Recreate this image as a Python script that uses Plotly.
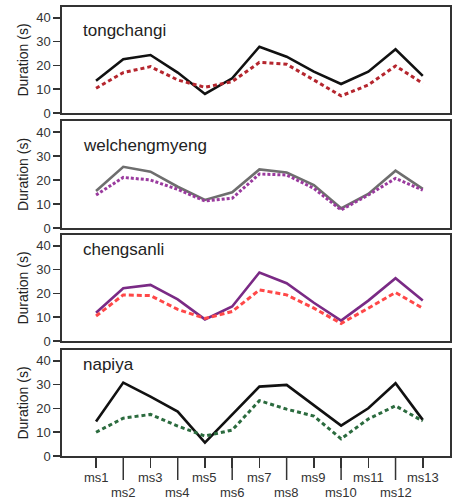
import plotly.graph_objects as go

categories = ["ms1", "ms2", "ms3", "ms4", "ms5", "ms6", "ms7", "ms8", "ms9", "ms10", "ms11", "ms12", "ms13"]
y_ticks = [0, 10, 20, 30, 40]

speakers = ["tongchangi", "welchengmyeng", "chengsanli", "napiya"]

tongchangi_solid = [13.6, 22.6, 24.4, 17.0, 8.0, 14.6, 27.9, 23.7, 17.4, 12.2, 17.4, 26.8, 15.6]
tongchangi_dotted = [10.4, 17.0, 19.5, 13.9, 10.8, 13.2, 21.3, 20.5, 13.9, 7.2, 11.8, 19.8, 12.5]

welchengmyeng_solid = [15.4, 25.5, 23.5, 17.2, 11.7, 14.9, 24.4, 23.1, 17.9, 8.2, 14.2, 23.9, 16.3]
welchengmyeng_dotted = [13.75, 21.1, 20.0, 16.1, 11.25, 12.4, 22.5, 22.1, 16.5, 7.5, 13.75, 20.7, 15.8]

chengsanli_solid = [11.9, 22.2, 23.6, 17.5, 9.1, 14.5, 28.8, 24.3, 16.1, 8.6, 17.0, 26.4, 17.0]
chengsanli_dotted = [10.5, 19.4, 19.1, 13.3, 9.5, 12.4, 21.5, 19.4, 13.8, 7.4, 13.8, 20.4, 13.8]

napiya_solid = [14.5, 30.9, 25.0, 18.7, 5.6, 17.3, 29.2, 29.9, 21.5, 12.8, 20.1, 30.6, 15.2]
napiya_dotted = [10.0, 15.9, 17.5, 12.6, 8.4, 10.9, 23.3, 19.7, 16.8, 7.2, 15.6, 21.1, 14.7]

solid_series = [tongchangi_solid, welchengmyeng_solid, chengsanli_solid, napiya_solid]
dotted_series = [tongchangi_dotted, welchengmyeng_dotted, chengsanli_dotted, napiya_dotted]

solid_colors = ["#111111", "#6e6e6e", "#7a2a85", "#111111"]
dotted_colors = ["#b5262e", "#9a3a9e", "#ff4848", "#2b6b3e"]
dotted_dash = ["4px,3px", "3px,2px", "5px,3px", "4px,3px"]

W, H = 452, 500
ml, mr, mt, mb = 62, 2, 7, 44
plot_h = H - mt - mb
panel_px = [(7, 113), (121, 228), (235, 341), (350, 456)]

x_idx = list(range(len(categories)))
FONT = "Liberation Sans, Arial, sans-serif"
AX = "#333333"

fig = go.Figure()
shapes = []
annotations = []

for i in range(4):
    n = i + 1
    xa = "x" if n == 1 else f"x{n}"
    ya = "y" if n == 1 else f"y{n}"
    fig.add_trace(go.Scatter(x=x_idx, y=solid_series[i], mode="lines",
                             line=dict(color=solid_colors[i], width=2.6),
                             xaxis=xa, yaxis=ya, showlegend=False, hoverinfo="skip"))
    fig.add_trace(go.Scatter(x=x_idx, y=dotted_series[i], mode="lines",
                             line=dict(color=dotted_colors[i], width=3, dash=dotted_dash[i]),
                             xaxis=xa, yaxis=ya, showlegend=False, hoverinfo="skip"))
    top, bot = panel_px[i]
    dom = [(H - mb - bot) / plot_h, (H - mb - top) / plot_h]
    yname = "yaxis" if n == 1 else f"yaxis{n}"
    xname = "xaxis" if n == 1 else f"xaxis{n}"
    fig.layout[yname] = dict(domain=dom, range=[0, 44.6], tickvals=y_ticks,
                             ticks="outside", ticklen=7, tickwidth=1.5, tickcolor=AX,
                             showline=True, linecolor=AX, linewidth=1.6, mirror=True,
                             showgrid=False, zeroline=False, anchor=xa, automargin=False,
                             tickfont=dict(size=13, color="#333", family=FONT),
                             title=dict(text="Duration (s)", font=dict(size=14, color="#222", family=FONT), standoff=4))
    last = (i == 3)
    fig.layout[xname] = dict(domain=[0, 1], range=[-1.25, 13.0], anchor=ya, automargin=False,
                             showline=True, linecolor=AX, linewidth=1.6, mirror=True,
                             showgrid=False, zeroline=False,
                             tickvals=x_idx if last else [],
                             ticks="outside" if last else "", ticklen=10, tickwidth=1.5, tickcolor=AX,
                             showticklabels=False)
    ypos = [0.78, 0.77, 0.86, 0.86][i]
    annotations.append(dict(text=speakers[i], xref=f"{xa} domain", yref=f"{ya} domain",
                            x=0.05, y=ypos, xanchor="left", yanchor="middle", showarrow=False,
                            font=dict(size=17, color="#222", family=FONT)))

# category labels in two staggered rows, long tick marks for the second row
for k, c in enumerate(categories):
    second = (k % 2 == 1)
    annotations.append(dict(text=c, xref="x4", yref="y4 domain", x=k, y=0,
                            xanchor="center", yanchor="top", showarrow=False,
                            yshift=-27 if second else -12,
                            font=dict(size=13, color="#333", family=FONT)))
    if second:
        shapes.append(dict(type="line", xref="x4", yref="y4 domain", x0=k, x1=k,
                           y0=0, y1=-24 / 106, line=dict(color=AX, width=1.5)))

fig.update_layout(width=W, height=H, margin=dict(l=ml, r=mr, t=mt, b=mb),
                  paper_bgcolor="white", plot_bgcolor="white",
                  shapes=shapes, annotations=annotations, font=dict(family=FONT))

fig.write_html("out.html", config={"displayModeBar": False, "staticPlot": True},
               post_script="document.body.style.margin='0';document.body.style.overflow='hidden';")
